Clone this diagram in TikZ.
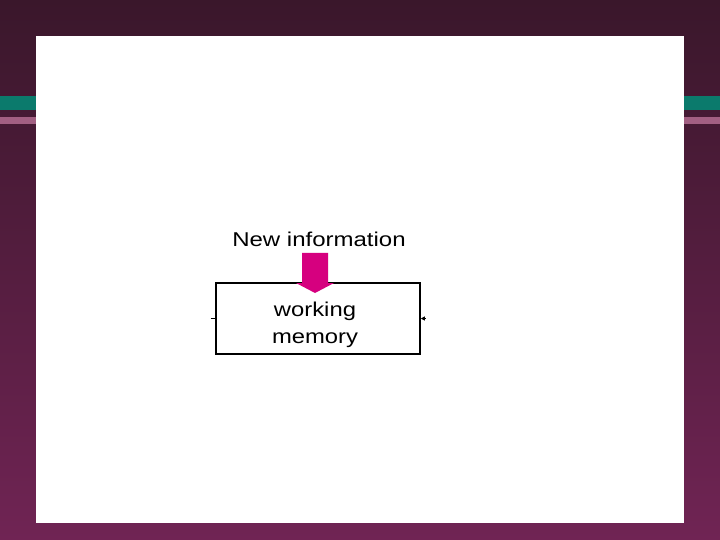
\documentclass[tikz,border=0pt]{standalone}
\usepackage{fontspec}
\setmainfont{Liberation Sans}
\usetikzlibrary{arrows.meta}
\definecolor{bgtop}{HTML}{3A172B}
\definecolor{bgbot}{HTML}{702454}
\definecolor{teal}{HTML}{0B7A6C}
\definecolor{mauve}{HTML}{A25F82}
\definecolor{magentaarrow}{HTML}{D6007F}
\tikzset{
  wmbox/.style={draw=black, line width=1.6bp, fill=white, minimum width=204bp, minimum height=71bp, inner sep=0pt},
  lbl/.style={font=\fontsize{20bp}{27.5bp}\selectfont, inner sep=0pt, text=black},
  bigarrow/.style={fill=magentaarrow, draw=none},
  stub/.style={draw=black, line width=1.4bp}
}
\begin{document}
\begin{tikzpicture}[x=1bp, y=-1bp]
\useasboundingbox (0,0) rectangle (720,540);
\shade[top color=bgtop, bottom color=bgbot] (0,0) rectangle (720,540);
\fill[teal] (0,96) rectangle (720,110.5);
\fill[mauve] (0,117) rectangle (720,124.5);
\fill[white] (36,36) rectangle (684,523);
\node[lbl, anchor=base] (newinfo) at (319,247) {\scalebox{1.2}[1]{New information}};
\node[wmbox] (wm) at (318,318.5) {};
\node[lbl, align=center, anchor=north] (wmtext) at (315,301.5) {\scalebox{1.19}[1]{working}\\\scalebox{1.19}[1]{memory}};
\coordinate (lstub) at (210.5,318.5);
\coordinate (rstub) at (425,318.5);
\draw[stub] (lstub) -- (wm.west);
\draw[stub, -{Triangle[length=4bp,width=4bp]}] (rstub) -- (wm.east);
\fill[bigarrow] (302,253) -- (328,253) -- (328,283) -- (334,283) -- (315,293) -- (296,283) -- (302,283) -- cycle;
\end{tikzpicture}
\end{document}
